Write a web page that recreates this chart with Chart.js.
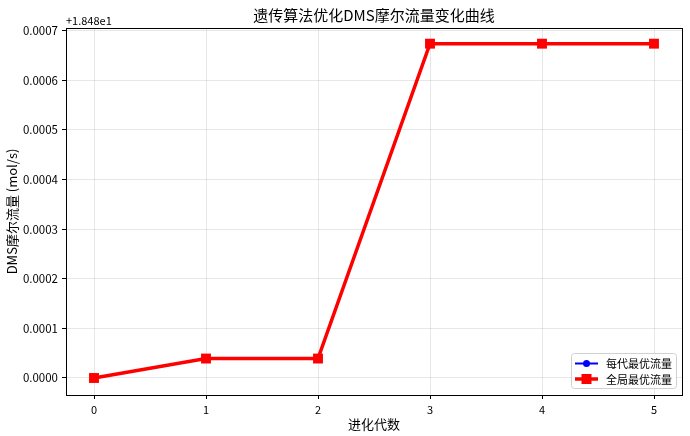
<!DOCTYPE html>
<html>
<head>
<meta charset="utf-8">
<script src="https://cdn.jsdelivr.net/npm/chart.js@4"></script>
<style>
  html, body { margin: 0; padding: 0; background: #fff; }
  #wrap { width: 690px; height: 436px; }
</style>
</head>
<body>
<div id="wrap"><canvas id="chart" width="690" height="436"></canvas></div>
<script>
const FONT = '"Noto Sans CJK SC", "DejaVu Sans", sans-serif'

// values are offsets from 18.48 (matplotlib shows "+1.848e1")
const offsetText = '+1.848e1'
const generations = [0, 1, 2, 3, 4, 5]
const bestPerGen = [0.0000000, 0.0000392, 0.0000392, 0.0006740, 0.0006740, 0.0006740]
const bestGlobal = [0.0000000, 0.0000392, 0.0000392, 0.0006740, 0.0006740, 0.0006740]
const yTickValues = [0, 0.0001, 0.0002, 0.0003, 0.0004, 0.0005, 0.0006, 0.0007]
const yTickLabels = ['0.0000', '0.0001', '0.0002', '0.0003', '0.0004', '0.0005', '0.0006', '0.0007']
const seriesNames = ['每代最优流量', '全局最优流量']

const toPoints = (arr) => arr.map((v, i) => ({ x: generations[i], y: v }))

const framePlugin = {
  id: 'frame',
  afterDraw(chart) {
    const { ctx, chartArea: a } = chart
    ctx.save()
    ctx.strokeStyle = '#000'
    ctx.lineWidth = 1
    ctx.strokeRect(a.left + 0.5, a.top + 0.5, a.right - a.left, a.bottom - a.top)

    // title
    ctx.fillStyle = '#000'
    ctx.font = '15px ' + FONT
    ctx.textAlign = 'center'
    ctx.textBaseline = 'middle'
    ctx.fillText('遗传算法优化DMS摩尔流量变化曲线', (a.left + a.right) / 2, 15)

    // offset text
    ctx.font = '11px ' + FONT
    ctx.textAlign = 'left'
    ctx.textBaseline = 'bottom'
    ctx.fillText(offsetText, a.left, a.top - 2)

    // legend
    const bx = 571, by = 353, bw = 105, bh = 35
    ctx.fillStyle = 'rgba(255,255,255,0.8)'
    ctx.strokeStyle = '#d0d0d0'
    ctx.lineWidth = 1
    ctx.beginPath()
    ctx.roundRect(bx + 0.5, by + 0.5, bw, bh, 3)
    ctx.fill()
    ctx.stroke()
    chart.data.datasets.forEach((ds, i) => {
      const cy = by + 10.5 + i * 15.5
      ctx.strokeStyle = ds.borderColor
      ctx.lineWidth = ds.borderWidth
      ctx.beginPath()
      ctx.moveTo(575, cy)
      ctx.lineTo(598, cy)
      ctx.stroke()
      ctx.fillStyle = ds.pointBackgroundColor
      if (ds.pointStyle === 'rect') {
        ctx.fillRect(586.5 - 5, cy - 5, 10, 10)
      } else {
        ctx.beginPath()
        ctx.arc(586.5, cy, 3.5, 0, Math.PI * 2)
        ctx.fill()
      }
      ctx.fillStyle = '#000'
      ctx.font = '11px ' + FONT
      ctx.textAlign = 'left'
      ctx.textBaseline = 'middle'
      ctx.fillText(ds.label, 606, cy + 0.5)
    })
    ctx.restore()
  }
}

new Chart(document.getElementById('chart').getContext('2d'), {
  type: 'line',
  data: {
    datasets: [{
      label: seriesNames[0],
      data: toPoints(bestPerGen),
      borderColor: '#0000ff',
      backgroundColor: '#0000ff',
      pointBackgroundColor: '#0000ff',
      pointBorderWidth: 0,
      borderWidth: 2,
      pointStyle: 'circle',
      pointRadius: 4,
      tension: 0,
      order: 2
    }, {
      label: seriesNames[1],
      data: toPoints(bestGlobal),
      borderColor: '#ff0000',
      backgroundColor: '#ff0000',
      pointBackgroundColor: '#ff0000',
      pointBorderWidth: 0,
      borderWidth: 3.5,
      pointStyle: 'rect',
      pointRadius: 7,
      tension: 0,
      order: 1
    }]
  },
  options: {
    responsive: false,
    animation: false,
    devicePixelRatio: 1,
    layout: { padding: { top: 28, right: 8, left: 0, bottom: 0 } },
    plugins: {
      legend: { display: false },
      title: { display: false },
      tooltip: { enabled: false }
    },
    scales: {
      x: {
        type: 'linear',
        min: -0.25,
        max: 5.25,
        afterBuildTicks: (s) => { s.ticks = generations.map(v => ({ value: v })) },
        afterFit: (s) => { s.height = 41 },
        ticks: {
          color: '#000',
          font: { family: FONT, size: 11 },
          padding: 4,
          maxRotation: 0,
          callback: (v) => String(v)
        },
        grid: {
          color: 'rgba(176,176,176,0.3)',
          tickColor: '#000',
          tickLength: 4
        },
        border: { color: '#000', width: 1 },
        title: {
          display: true,
          text: '进化代数',
          color: '#000',
          font: { family: FONT, size: 13 },
          padding: { top: 2 }
        }
      },
      y: {
        type: 'linear',
        min: -0.0000343,
        max: 0.0007056,
        afterBuildTicks: (s) => { s.ticks = yTickValues.map(v => ({ value: v })) },
        afterFit: (s) => { s.width = 66 },
        ticks: {
          color: '#000',
          font: { family: FONT, size: 11.5 },
          padding: 4,
          callback: (v) => {
            const i = yTickValues.findIndex(t => Math.abs(t - v) < 1e-9)
            return i >= 0 ? yTickLabels[i] : ''
          }
        },
        grid: {
          color: 'rgba(176,176,176,0.3)',
          tickColor: '#000',
          tickLength: 4
        },
        border: { color: '#000', width: 1 },
        title: {
          display: true,
          text: 'DMS摩尔流量 (mol/s)',
          color: '#000',
          font: { family: FONT, size: 13 },
          padding: { bottom: 2 }
        }
      }
    }
  },
  plugins: [framePlugin]
})
</script>
</body>
</html>
